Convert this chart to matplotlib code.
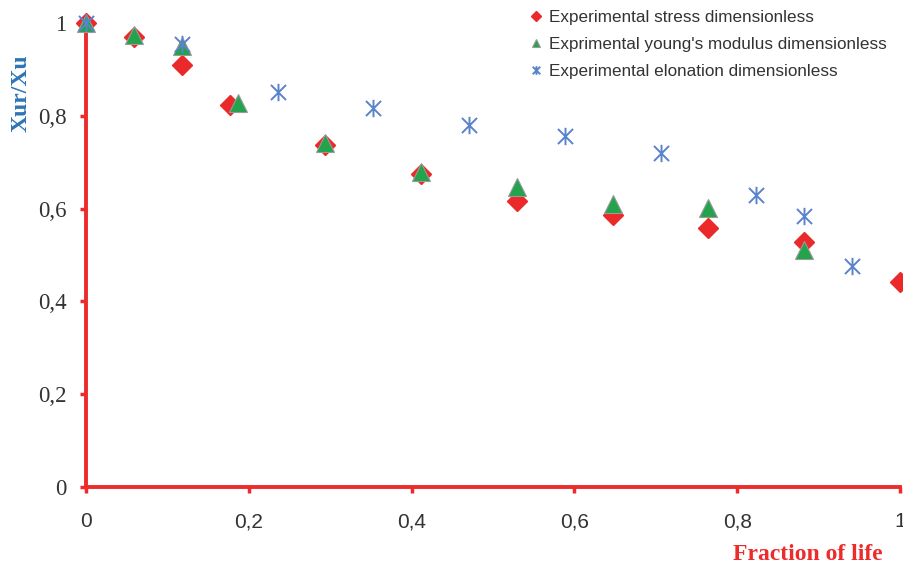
import matplotlib.pyplot as plt
from matplotlib.path import Path
from matplotlib.ticker import FuncFormatter

# fraction of life (x) and dimensionless ratios Xur/Xu (y)
stress_x = [0, 0.0588, 0.1176, 0.1765, 0.2941, 0.4118, 0.5294, 0.6471, 0.7647, 0.8824, 1.0]
stress_y = [1.0, 0.970, 0.910, 0.824, 0.737, 0.675, 0.616, 0.586, 0.558, 0.528, 0.442]

young_x = [0, 0.0588, 0.1176, 0.1865, 0.2941, 0.4118, 0.5294, 0.6471, 0.7647, 0.8824]
young_y = [1.0, 0.975, 0.950, 0.827, 0.742, 0.678, 0.647, 0.610, 0.602, 0.510]

elong_x = [0, 0.1176, 0.2353, 0.3529, 0.4706, 0.5882, 0.7059, 0.8235, 0.8824, 0.9412]
elong_y = [1.0, 0.955, 0.852, 0.817, 0.781, 0.757, 0.720, 0.630, 0.585, 0.477]

labels = ["Experimental stress dimensionless",
          "Exprimental young's modulus dimensionless",
          "Experimental elonation dimensionless"]

RED = "#ea2a2a"
GREEN = "#23a34b"
BLUE = "#5b82cc"
AXIS_RED = "#ee2b2b"

# Excel style star: an x with a vertical stroke
star = Path([(-1, -1), (1, 1), (-1, 1), (1, -1), (0, -1.15), (0, 1.15)],
            [Path.MOVETO, Path.LINETO, Path.MOVETO, Path.LINETO, Path.MOVETO, Path.LINETO])

fig = plt.figure(figsize=(9.04, 5.65), dpi=100)
ax = fig.add_axes([86 / 904, 78 / 565, 814 / 904, 464 / 565])

ax.plot(stress_x, stress_y, ls="none", marker="D", ms=9.8, color=RED, mec=RED,
        clip_on=False, zorder=3, label=labels[0])
ax.plot(young_x, young_y, ls="none", marker="^", ms=12.5, color=GREEN, mec="#9a9a9a",
        mew=0.8, clip_on=False, zorder=4, label=labels[1])
ax.plot(elong_x, elong_y, ls="none", marker=star, ms=12.5, color=BLUE, mfc="none",
        mew=1.4, clip_on=False, zorder=5, label=labels[2])

ax.set_xlim(0, 1)
ax.set_ylim(0, 1)
ax.set_xticks([0, 0.2, 0.4, 0.6, 0.8, 1])
ax.set_yticks([0, 0.2, 0.4, 0.6, 0.8, 1])

comma = FuncFormatter(lambda v, p: ("%g" % round(v, 2)).replace(".", ","))
ax.xaxis.set_major_formatter(comma)
ax.yaxis.set_major_formatter(comma)

for s in ["top", "right"]:
    ax.spines[s].set_visible(False)
for s in ["left", "bottom"]:
    ax.spines[s].set_color(AXIS_RED)
    ax.spines[s].set_linewidth(2.8)

ax.tick_params(axis="both", direction="out", length=4, width=2.5, color=AXIS_RED,
               labelcolor="#333333")
ax.tick_params(axis="x", pad=14, labelsize=15)
ax.tick_params(axis="y", pad=10, labelsize=16.5)
for t in ax.get_xticklabels():
    t.set_fontfamily("Liberation Sans")
for t in ax.get_yticklabels():
    t.set_fontfamily("Liberation Serif")

fig.text(21 / 904, 1 - 93 / 565, "Xur/Xu", rotation=90, ha="center", va="center",
         fontsize=17, fontweight="bold", family="Liberation Serif", color="#2e75b6")
fig.text(808 / 904, 1 - 554 / 565, "Fraction of life", ha="center", va="center",
         fontsize=17, fontweight="bold", family="Liberation Serif", color=AXIS_RED)

leg = fig.legend(loc="upper left", bbox_to_anchor=(0.569, 1.01), frameon=False,
                 markerscale=0.5, handlelength=0.7, handletextpad=0.45,
                 labelspacing=0.7, prop={"family": "Liberation Sans", "size": 12.3})
for t in leg.get_texts():
    t.set_color("#333333")

fig.savefig("out.png", dpi=100)
